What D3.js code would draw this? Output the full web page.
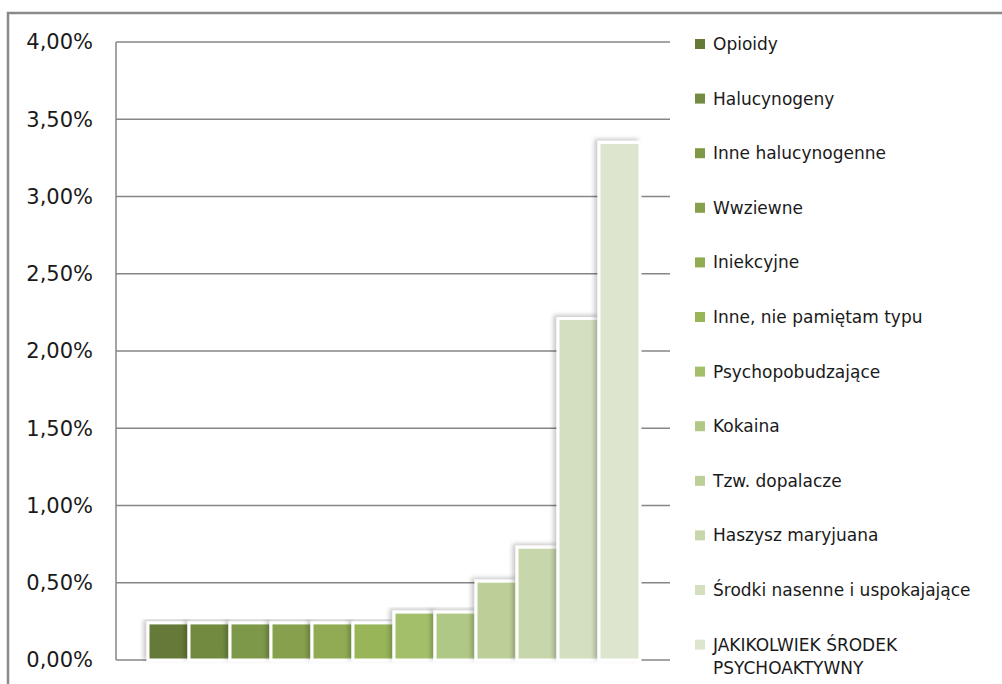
<!DOCTYPE html>
<meta charset="utf-8" />
<title>Substancje psychoaktywne</title>
<style>
  body { margin: 0; background: #fff; }
  text { font-family: "DejaVu Sans", sans-serif; fill: #1a1a1a; }
  .grid line { stroke: #868686; stroke-width: 1.5px; }
  .ylab text { font-size: 21px; }
  .legend text { font-size: 17px; }
</style>
<body>
<svg width="1002" height="684"></svg>
<script src="https://d3js.org/d3.v7.min.js"></script>
<script>
  // series (one category, twelve series)
  const categories = [
    "Opioidy", "Halucynogeny", "Inne halucynogenne", "Wwziewne", "Iniekcyjne",
    "Inne, nie pamiętam typu", "Psychopobudzające", "Kokaina", "Tzw. dopalacze",
    "Haszysz maryjuana", "Środki nasenne i uspokajające",
    "JAKIKOLWIEK ŚRODEK PSYCHOAKTYWNY"
  ];
  const values = [0.0024, 0.0024, 0.0024, 0.0024, 0.0024, 0.0024,
                  0.0031, 0.0031, 0.0051, 0.0073, 0.0221, 0.0335];
  const colors = ["#657a37", "#728a41", "#7e9848", "#87a04e", "#90ab52", "#98b558",
                  "#a4bf6a", "#b0c886", "#bccf98", "#c8d6ac", "#d3dfbf", "#dde5cf"];
  const yTicks = [0, 0.005, 0.01, 0.015, 0.02, 0.025, 0.03, 0.035, 0.04];

  const pl = d3.formatLocale({ decimal: ",", thousands: " ", grouping: [3], currency: ["", " zł"] });
  const fmt = pl.format(".2%");

  const svg = d3.select("svg");

  // drop shadow for the bars
  const defs = svg.append("defs");
  const f = defs.append("filter").attr("id", "shadow")
    .attr("x", "-30%").attr("y", "-10%").attr("width", "140%").attr("height", "120%");
  f.append("feDropShadow").attr("dx", -3).attr("dy", -2).attr("stdDeviation", 2)
    .attr("flood-color", "#000").attr("flood-opacity", 0.22);

  // outer chart border
  svg.append("rect")
    .attr("x", 8).attr("y", 13).attr("width", 1100).attr("height", 800)
    .attr("fill", "none").attr("stroke", "#8a8a8a").attr("stroke-width", 2.5);

  const plot = { left: 116, right: 670, top: 42, bottom: 660 };

  const y = d3.scaleLinear().domain([0, 0.04]).range([plot.bottom, plot.top]);
  const x = d3.scaleBand().domain(categories).range([148, 640]).padding(0);

  // gridlines
  svg.append("g").attr("class", "grid")
    .selectAll("line").data(yTicks).enter().append("line")
    .attr("x1", plot.left).attr("x2", plot.right)
    .attr("y1", d => y(d)).attr("y2", d => y(d));
  svg.append("line")
    .attr("x1", plot.left).attr("x2", plot.left)
    .attr("y1", plot.top).attr("y2", plot.bottom)
    .attr("stroke", "#868686").attr("stroke-width", 1.5);

  // y labels
  svg.append("g").attr("class", "ylab")
    .selectAll("text").data(yTicks).enter().append("text")
    .attr("x", 93).attr("y", d => y(d)).attr("dy", "0.35em")
    .attr("text-anchor", "end")
    .text(d => fmt(d));

  // bars
  svg.append("g")
    .selectAll("rect").data(categories).enter().append("rect")
    .attr("x", d => x(d))
    .attr("y", (d, i) => y(values[i]))
    .attr("width", x.bandwidth())
    .attr("height", (d, i) => y(0) - y(values[i]))
    .attr("fill", (d, i) => colors[i])
    .attr("stroke", "#fff").attr("stroke-width", 3)
    .attr("filter", "url(#shadow)");

  // legend
  const legStep = 54.6;
  const leg = svg.append("g").attr("class", "legend")
    .selectAll("g").data(categories).enter().append("g")
    .attr("transform", (d, i) => `translate(695,${44 + i * legStep})`);
  leg.append("rect")
    .attr("x", 0).attr("y", -5).attr("width", 10).attr("height", 10)
    .attr("fill", (d, i) => colors[i]);
  leg.append("text")
    .attr("x", 18).attr("dy", "0.35em")
    .each(function (d) {
      const t = d3.select(this);
      if (d.startsWith("JAKIKOLWIEK")) {
        t.append("tspan").attr("x", 18).text("JAKIKOLWIEK ŚRODEK");
        t.append("tspan").attr("x", 18).attr("dy", "1.4em").text("PSYCHOAKTYWNY");
      } else {
        t.text(d);
      }
    });
</script>
</body>
